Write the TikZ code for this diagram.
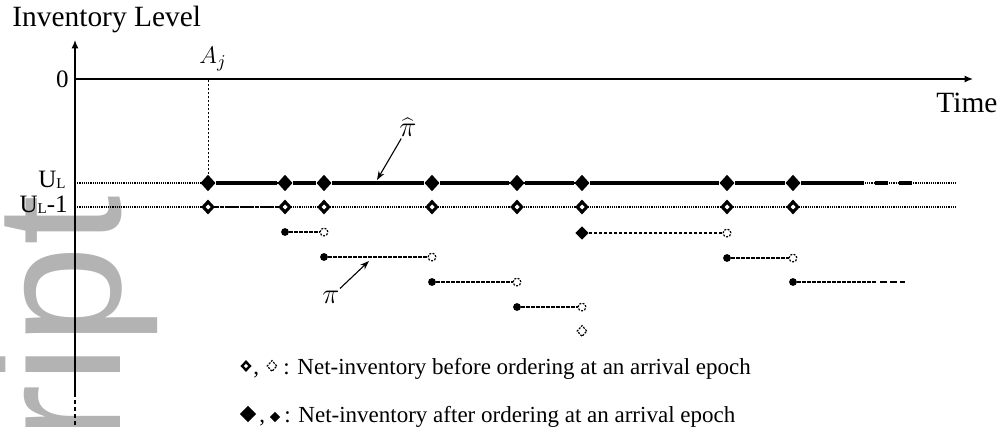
\documentclass[tikz,border=0pt]{standalone}
\usepackage{fontspec}
\setmainfont{Liberation Serif}
\newfontfamily\wmfont{Liberation Sans}
\usetikzlibrary{shapes.geometric,arrows.meta}
\definecolor{wmgray}{HTML}{B3B3B3}
\newcommand{\lab}{\fontsize{14.7}{17}\selectfont}
\newcommand{\tick}{\fontsize{12.5}{14}\selectfont}
\newcommand{\leg}{\fontsize{11.5}{13}\selectfont}
\newcommand{\subL}{{\fontsize{7.5}{8}\selectfont\raisebox{-0.5pt}{L}}}

\begin{document}
\begin{tikzpicture}[x=0.5pt,y=-0.5pt,
  axis/.style={line width=0.75pt},
  guide/.style={line width=0.6pt, dash pattern=on 0.6pt off 0.5pt},
  vguide/.style={line width=0.5pt, dash pattern=on 1.2pt off 0.8pt},
  link/.style={line width=0.6pt, dash pattern=on 1.6pt off 0.9pt},
  thickline/.style={line width=1.65pt},
  ptr/.style={line width=0.55pt, -{Stealth[length=4.5pt,width=3.2pt]}},
  afterbig/.style={diamond, fill=black, inner sep=0pt, minimum width=7.6pt, minimum height=8.4pt},
  aftermid/.style={diamond, fill=black, inner sep=0pt, minimum width=6.8pt, minimum height=6.8pt},
  aftersmall/.style={diamond, fill=black, inner sep=0pt, minimum width=5.4pt, minimum height=5.2pt},
  hollow/.style={diamond, fill=black, inner sep=0pt,
    path picture={\fill[white] (path picture bounding box.center) ++(-#1,0) -- ++(#1,#1) -- ++(#1,-#1) -- ++(-#1,-#1) -- cycle;}},
  beforebig/.style={hollow=1.25pt, minimum width=7pt, minimum height=7.6pt},
  beforeleg/.style={hollow=1.1pt, minimum width=5.8pt, minimum height=6pt},
  beforesmall/.style={diamond, draw=black, fill=white, line width=0.6pt, dash pattern=on 1pt off 0.6pt, inner sep=0pt, minimum width=5pt, minimum height=5.6pt},
  dot/.style={circle, fill=black, inner sep=0pt, minimum size=3.9pt},
  opendot/.style={circle, draw=black, fill=white, line width=0.6pt, dash pattern=on 1pt off 0.7pt, inner sep=0pt, minimum size=3.9pt},
  txt/.style={inner sep=0pt}
]
\useasboundingbox (0,0) rectangle (1001,427);

% watermark lettering
\begin{scope}
  \clip (0,0) rectangle (1001,427);
  \node[rotate=90, anchor=base west, inner sep=0pt, text=wmgray,
        font=\wmfont\fontsize{89.5}{90}\selectfont] (wm) at (120,445) {ript};
\end{scope}

% axes
\coordinate (O) at (75,79);
\coordinate (ytop) at (75,40);
\coordinate (ybrk) at (75,393);
\coordinate (ybot) at (75,427);
\coordinate (xend) at (973,79);
\draw[axis,-{Latex[length=4.2pt,width=3.6pt]}] (ybrk) -- (ytop);
\draw[line width=0.6pt, dash pattern=on 2pt off 1.5pt] (ybrk) -- (ybot);
\draw[axis,-{Latex[length=4.2pt,width=3.6pt]}] (O) -- (xend);

\node[txt, font=\lab, anchor=base west] (ylab) at (12,27) {Inventory Level};
\node[txt, font=\lab, anchor=base west] (xlab) at (936,113) {Time};
\node[txt, font=\tick, anchor=east] (zero) at (69,79) {0};
\node[txt, font=\tick, anchor=base east] (ul) at (66,188) {U\subL};
\node[txt, font=\tick, anchor=base east] (ulm) at (68,213) {U\subL-1};
\node[txt, font=\fontsize{13}{14}\selectfont, anchor=base west] (Aj) at (199,64) {$A_j$};

% reference levels
\coordinate (ulA) at (75,183);  \coordinate (ulB) at (957,183);
\coordinate (umA) at (75,207);  \coordinate (umB) at (957,207);
\draw[guide] (ulA) -- (ulB);
\draw[guide] (umA) -- (umB);

% arrival epochs: net inventory after (top) and before (below) ordering
\foreach \x [count=\i] in {208,285,324,432,517,582,727,793} {
  \node[afterbig] (a\i) at (\x,183) {};
  \node[beforebig] (b\i) at (\x,207) {};
}
\coordinate (Ajfoot) at (208,80);
\draw[vguide] (Ajfoot) -- (a1);

% policy pi-hat
\draw[thickline] (a1) -- (a2) -- (a3) -- (a4) -- (a5) -- (a6) -- (a7) -- (a8);
\coordinate (tailA) at (851,183);
\coordinate (tailB) at (912,183);
\draw[thickline] (a8) -- (tailA);
\draw[thickline, dash pattern=on 6.5pt off 5.5pt] (tailA) -- (tailB);

% policy pi
\draw[link] (b1) -- (b2);
\node[dot] (p1) at (285,232) {};  \node[opendot] (q1) at (324,232) {};
\node[aftermid] (m1) at (582,233) {}; \node[opendot] (q2) at (727,233) {};
\node[dot] (p2) at (324,257) {};  \node[opendot] (q3) at (432,257) {};
\node[dot] (p3) at (727,258) {};  \node[opendot] (q4) at (793,258) {};
\node[dot] (p4) at (432,282) {};  \node[opendot] (q5) at (517,282) {};
\node[dot] (p5) at (793,282) {};
\node[dot] (p6) at (517,307) {};  \node[opendot] (q6) at (582,307) {};
\node[beforesmall] (s1) at (582,331) {};
\coordinate (r5) at (877,282);
\coordinate (r6) at (880,282);
\coordinate (r7) at (905,282);
\draw[link] (p1) -- (q1);
\draw[link] (m1) -- (q2);
\draw[link] (p2) -- (q3);
\draw[link] (p3) -- (q4);
\draw[link] (p4) -- (q5);
\draw[link] (p5) -- (r5);
\draw[line width=0.6pt, dash pattern=on 3.5pt off 1.5pt] (r6) -- (r7);
\draw[link] (p6) -- (q6);

% policy labels
\node[font=\fontsize{14}{15}\selectfont, inner sep=1pt] (pihat) at (408,127) {$\widehat{\pi}$};
\coordinate (pihatTip) at (377,180);
\draw[ptr] (pihat) -- (pihatTip);
\node[font=\fontsize{14}{15}\selectfont, inner sep=1pt] (piL) at (331,297) {$\pi$};
\coordinate (piTip) at (369,261);
\draw[ptr] (piL) -- (piTip);

% legend
\node[beforeleg] (k1) at (246,366) {};
\node[txt, font=\leg, anchor=base west] (c1) at (253,374) {,};
\node[beforesmall] (k2) at (272,366) {};
\node[txt, font=\leg, anchor=base west] (t1) at (283,374) {: Net-inventory before ordering at an arrival epoch};
\node[afterbig, minimum width=8.4pt, minimum height=8.4pt] (k3) at (248,414) {};
\node[txt, font=\leg, anchor=base west] (c2) at (259,422) {,};
\node[aftersmall] (k4) at (275,417) {};
\node[txt, font=\leg, anchor=base west] (t2) at (284,422) {: Net-inventory after ordering at an arrival epoch};
\end{tikzpicture}
\end{document}
